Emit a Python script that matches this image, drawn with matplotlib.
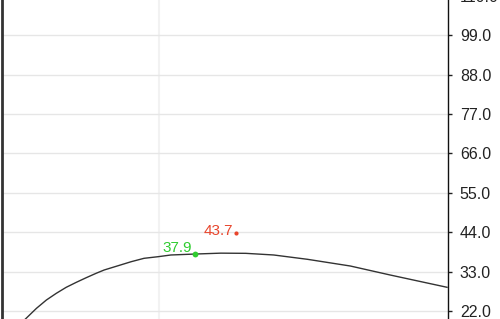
"""
Fitted curve with two highlighted points, right-hand value axis
"""
import matplotlib.pyplot as plt

plt.rcParams['font.family'] = ['Liberation Sans', 'DejaVu Sans']

# Curve
curve_x = [1.52, 2.22, 2.85, 3.48, 4.11, 4.75, 5.38, 6.01, 6.52, 7.41,
           8.23, 9.05, 9.94, 10.76, 12.28, 13.92, 15.51, 17.28, 19.43,
           22.15, 24.68, 28.29]
curve_y = [19.77, 22.75, 25.07, 26.94, 28.62, 30.01, 31.30, 32.53, 33.45, 34.65,
           35.76, 36.71, 37.16, 37.64, 37.9, 38.15, 38.1, 37.64, 36.43,
           34.56, 32.05, 28.62]

# Highlighted points
green_x, green_y = 12.28, 37.9
red_x, red_y = 14.87, 43.7

y_ticks = [22.0, 33.0, 44.0, 55.0, 66.0, 77.0, 88.0, 99.0, 110.0]
x_ticks = [10.0]

fig = plt.figure(figsize=(5.0, 3.19), dpi=100)
fig.patch.set_facecolor('white')
ax = fig.add_axes([0.003, 0.0, 0.893, 1.047])
ax.set_xlim(0, 28.35)
ax.set_ylim(19.77, 113.0)

ax.plot(curve_x, curve_y, color='#333333', lw=1.0, zorder=3)

ax.plot(green_x, green_y, 'o', color='#2fcc2f', ms=4.2, mec='none', zorder=4)
ax.annotate('%.1f' % green_y, (green_x, green_y), xytext=(-2, 1.5),
            textcoords='offset points', ha='right', va='baseline',
            color='#2fcc2f', fontsize=11)
ax.plot(red_x, red_y, 'o', color='#e8452c', ms=3.0, mec='none', zorder=4)
ax.annotate('%.1f' % red_y, (red_x, red_y), xytext=(-1.5, -1),
            textcoords='offset points', ha='right', va='baseline',
            color='#e8452c', fontsize=11)

# Axes and grid
ax.yaxis.tick_right()
ax.set_yticks(y_ticks)
ax.set_yticklabels(['%.1f' % v for v in y_ticks])
ax.set_xticks(x_ticks)
ax.tick_params(axis='x', length=0, labelbottom=False)
ax.tick_params(axis='y', length=3, width=1, pad=5.5, labelsize=11.5,
               colors='#222222')
ax.grid(axis='y', color='#e6e6e6', lw=1.0)
ax.grid(axis='x', color='#f2f2f2', lw=1.5)
ax.set_axisbelow(True)

for side in ['top', 'bottom']:
    ax.spines[side].set_visible(False)
ax.spines['left'].set_color('#333333')
ax.spines['left'].set_linewidth(2.0)
ax.spines['right'].set_color('#111111')
ax.spines['right'].set_linewidth(1.0)

fig.savefig('out.png', dpi=100)
